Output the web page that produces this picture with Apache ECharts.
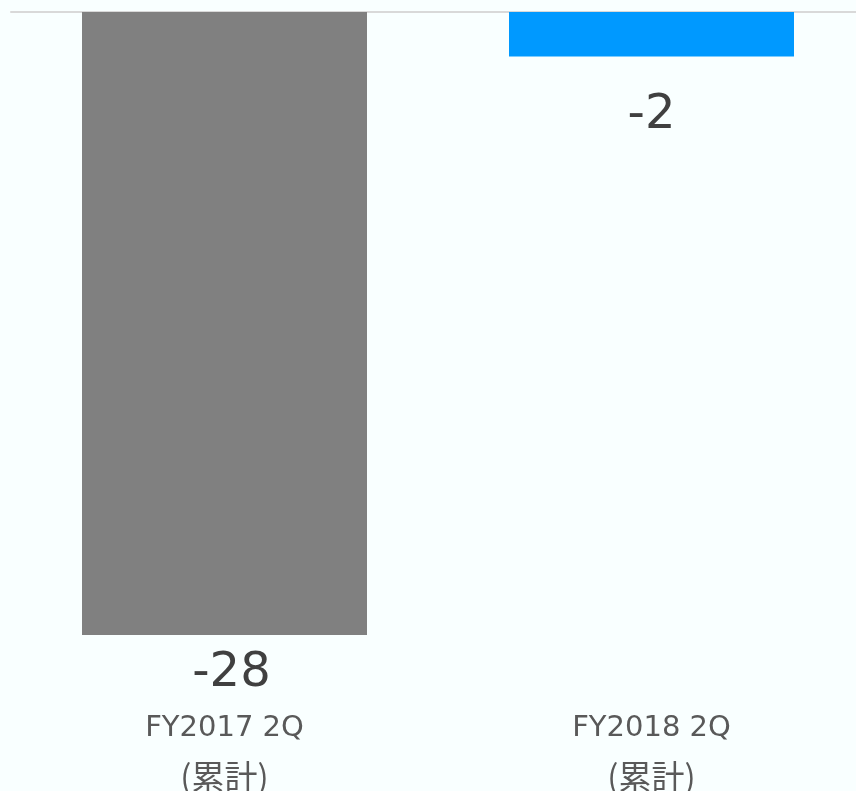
<!DOCTYPE html>
<html>
<head>
<meta charset="utf-8">
<script src="https://cdn.jsdelivr.net/npm/echarts@6/dist/echarts.min.js"></script>
<style>
html,body{margin:0;padding:0;background:#f9ffff;overflow:hidden;}
#main{width:856px;height:791px;}
</style>
</head>
<body>
<div id="main"></div>
<script>
const categories = ['FY2017 2Q\n(累計)', 'FY2018 2Q\n(累計)'];
const values = [-28, -2];
const barColors = ['#808080', '#0099ff'];
const labelDistances = [15, 35];
const labelShiftX = [7, 0];

const chart = echarts.init(document.getElementById('main'), null, {width: 856, height: 791});
chart.setOption({
  backgroundColor: '#f9ffff',
  animation: false,
  grid: {left: 11, width: 854, top: 12, height: 623, containLabel: false, outerBoundsMode: 'none'},
  xAxis: [
    {type: 'category', data: categories, position: 'top',
     axisLine: {show: true, onZero: false, lineStyle: {color: '#d9d9d9', width: 2}},
     axisTick: {show: false}, axisLabel: {show: false}},
    {type: 'category', data: categories, position: 'bottom',
     axisLine: {show: false, onZero: false}, axisTick: {show: false},
     axisLabel: {show: true, margin: 69, color: '#595959',
       formatter: function (v) {
         const parts = v.split('\n');
         return '{a|' + parts[0] + '}\n{b|' + parts[1] + '}';
       },
       rich: {
         a: {fontSize: 29, lineHeight: 48, color: '#595959', fontFamily: 'DejaVu Sans, sans-serif'},
         b: {fontSize: 33, lineHeight: 48, color: '#595959', fontFamily: '"Noto Sans CJK JP", sans-serif'}
       }}}
  ],
  yAxis: {type: 'value', min: -28, max: 0, show: false, splitLine: {show: false}},
  series: [{
    type: 'bar',
    xAxisIndex: 0,
    barWidth: 285,
    data: values.map((v, i) => ({
      value: v,
      itemStyle: {color: barColors[i]},
      label: {distance: labelDistances[i], offset: [labelShiftX[i], 0]}
    })),
    label: {show: true, position: 'bottom', color: '#404040', fontSize: 48,
      fontFamily: 'DejaVu Sans, sans-serif'}
  }]
});
</script>
</body>
</html>
